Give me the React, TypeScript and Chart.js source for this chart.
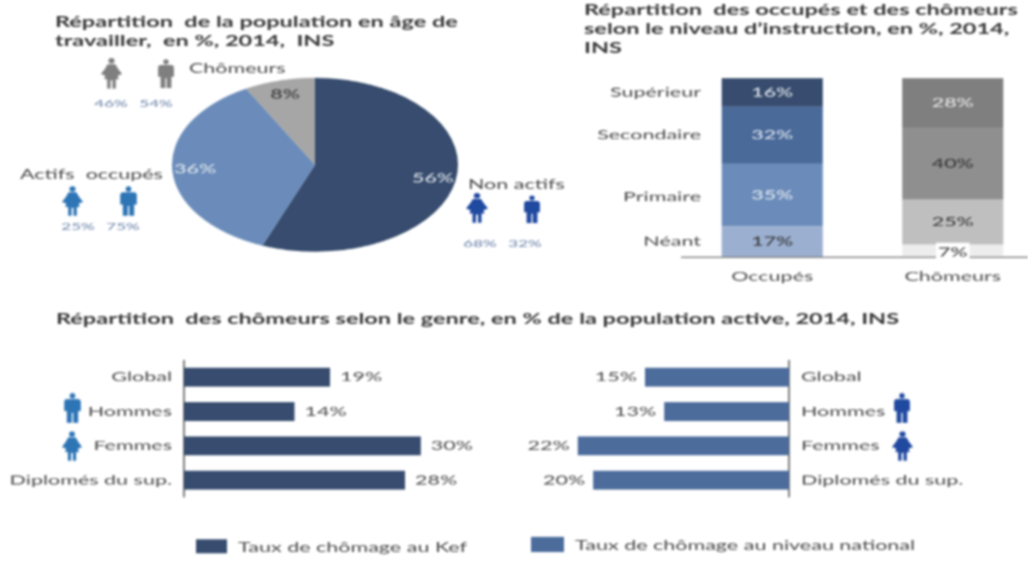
import React, { useEffect, useRef } from "react";
import { Chart, registerables } from "chart.js";

Chart.register(...registerables);

// ---- data ----
const pieLabels = ["Non actifs", "Actifs occupés", "Chômeurs"];
const pieValues = [56, 36, 8];
const pieColors = ["#374C6E", "#6B8CBA", "#A6A6A6"];
const pieLabelColors = ["#E8ECF2", "#E8ECF2", "#333333"];

const stackCategories = ["Occupés", "Chômeurs"];
const levelNames = ["Néant", "Primaire", "Secondaire", "Supérieur"];
const levelNeant = [17, 7];
const levelPrimaire = [35, 25];
const levelSecondaire = [32, 40];
const levelSuperieur = [16, 28];

const genderCategories = ["Global", "Hommes", "Femmes", "Diplomés du sup."];
const kefRates = [18.5, 14, 30, 28];
const nationalRates = [15, 13, 22, 20.4];

const titlePop = ["Répartition  de la population en âge de", "travailler,  en %, 2014,  INS"];
const titleEdu = [
  "Répartition  des occupés et des chômeurs",
  "selon le niveau d’instruction, en %, 2014,",
  "INS",
];
const titleGender = "Répartition  des chômeurs selon le genre, en % de la population active, 2014, INS";
const legendKef = "Taux de chômage au Kef";
const legendNat = "Taux de chômage au niveau national";

// ---- layout ----
const S = 0.608;
const FONT = "Lato, sans-serif";
const LABEL_SIZE = 21.5;
const TITLE_SIZE = 23.5;
const SMALL_SIZE = 17;
const C_TEXT = "#4A4A4A";
const C_TITLE = "#383838";
const C_SMALL = "#6A82A8";
const DARK = "#374C6E";
const BLUE = "#4C6C9C";
const GRAY = "#7F7F7F";
const TEAL = "#2E75B6";
const NAVY = "#2049A0";

const MAN =
  "M6 7.5H18Q21.5 7.5 21.5 11V22H18.5V36H12.8V24H11.2V36H5.5V22H2.5V11Q2.5 7.5 6 7.5Z";
const WOMAN =
  "M8 7.5H16L19 13L23 19L18.5 21L19.5 25H16.5V36H13V26H11V36H7.5V25H4.5L5.5 21L1 19L5 13Z";

function Person({ x, y, w, h, color, woman }: any) {
  return (
    <svg
      viewBox="0 0 24 36"
      preserveAspectRatio="none"
      style={{ position: "absolute", left: x, top: y / S, width: w, height: h / S }}
    >
      <circle cx="12" cy="3.5" r="3.2" fill={color} />
      <path d={woman ? WOMAN : MAN} fill={color} />
    </svg>
  );
}

function Txt({ x, y, text, size = LABEL_SIZE, color = C_TEXT, bold = false, center = false }: any) {
  return (
    <div
      style={{
        position: "absolute",
        left: x,
        top: y / S - size * 0.75,
        height: size * 1.5,
        lineHeight: `${size * 1.5}px`,
        fontFamily: FONT,
        fontSize: size,
        fontWeight: bold ? 700 : 400,
        color,
        whiteSpace: "pre",
        transform: center ? "translateX(-50%)" : undefined,
      }}
    >
      {text}
    </div>
  );
}

const pieLabelPlugin = {
  id: "pieLabels",
  afterDatasetsDraw(chart: any) {
    const { ctx } = chart;
    const meta = chart.getDatasetMeta(0);
    ctx.save();
    ctx.font = `${LABEL_SIZE}px ${FONT}`;
    ctx.textAlign = "center";
    ctx.textBaseline = "middle";
    meta.data.forEach((arc: any, i: number) => {
      const a = (arc.startAngle + arc.endAngle) / 2;
      const r = arc.outerRadius * 0.84;
      ctx.fillStyle = pieLabelColors[i];
      ctx.fillText(
        `${chart.data.datasets[0].data[i]}%`,
        arc.x + Math.cos(a) * r,
        arc.y + Math.sin(a) * r
      );
    });
    ctx.restore();
  },
};

const stackLabelPlugin = {
  id: "stackLabels",
  afterDatasetsDraw(chart: any) {
    const { ctx } = chart;
    ctx.save();
    ctx.font = `${LABEL_SIZE}px ${FONT}`;
    ctx.textBaseline = "middle";
    chart.data.datasets.forEach((ds: any, d: number) => {
      const meta = chart.getDatasetMeta(d);
      meta.data.forEach((bar: any, i: number) => {
        const boxed = ds.boxed && ds.boxed[i];
        const cy = (bar.y + bar.base) / 2 + (boxed ? 3 : 0);
        const t = `${ds.data[i]}%`;
        ctx.textAlign = "center";
        if (boxed) {
          const tw = ctx.measureText(t).width + 4;
          ctx.fillStyle = "#FFFFFF";
          ctx.fillRect(bar.x - tw / 2, cy - 16, tw, 32);
        }
        ctx.fillStyle = ds.textColors[i];
        ctx.fillText(t, bar.x, cy);
        if (i === 0) {
          ctx.textAlign = "right";
          ctx.fillStyle = C_TEXT;
          ctx.fillText(ds.label, chart.chartArea.left + 19, cy + (d === 1 ? 3 : 0));
        }
      });
    });
    ctx.restore();
  },
};

const barValuePlugin = {
  id: "barValues",
  afterDatasetsDraw(chart: any) {
    const { ctx } = chart;
    const ds = chart.data.datasets[0];
    const rev = chart.scales.x.options.reverse;
    ctx.save();
    ctx.font = `${LABEL_SIZE}px ${FONT}`;
    ctx.textBaseline = "middle";
    ctx.textAlign = rev ? "right" : "left";
    ctx.fillStyle = C_TEXT;
    chart.getDatasetMeta(0).data.forEach((bar: any, i: number) => {
      ctx.fillText(`${Math.round(ds.data[i])}%`, bar.x + (rev ? -8 : 10), bar.y);
    });
    ctx.restore();
  },
};

function useChart(make: (c: HTMLCanvasElement) => Chart) {
  const ref = useRef<HTMLCanvasElement>(null);
  useEffect(() => {
    const c = make(ref.current as HTMLCanvasElement);
    return () => c.destroy();
  }, []);
  return ref;
}

function hBar(canvas: HTMLCanvasElement, values: number[], color: string, rev: boolean, max: number, axisW: number) {
  return new Chart(canvas, {
    type: "bar",
    data: {
      labels: genderCategories,
      datasets: [{ data: values, backgroundColor: color, barPercentage: 1, categoryPercentage: 0.55 }],
    },
    plugins: [barValuePlugin],
    options: {
      indexAxis: "y",
      animation: false,
      responsive: false,
      maintainAspectRatio: false,
      layout: { padding: 0 },
      plugins: { legend: { display: false }, tooltip: { enabled: false }, title: { display: false } },
      scales: {
        x: { display: false, min: 0, max, reverse: rev },
        y: {
          position: rev ? "right" : "left",
          afterFit: (s: any) => {
            s.width = axisW;
            s.paddingTop = 0;
            s.paddingBottom = 0;
          },
          grid: { display: false, drawTicks: false },
          border: { display: true, color: GRAY, width: 2 },
          ticks: {
            padding: 12,
            color: C_TEXT,
            font: { family: "Lato", size: LABEL_SIZE },
          },
        },
      },
    },
  } as any);
}

export default function App() {
  const pieRef = useChart(
    (c) =>
      new Chart(c, {
        type: "pie",
        data: {
          labels: pieLabels,
          datasets: [{ data: pieValues, backgroundColor: pieColors, borderWidth: 0 }],
        },
        plugins: [pieLabelPlugin],
        options: {
          animation: false,
          responsive: false,
          maintainAspectRatio: false,
          layout: { padding: 0 },
          plugins: { legend: { display: false }, tooltip: { enabled: false } },
        },
      } as any)
  );

  const stackRef = useChart((c) => {
    const series = [levelNeant, levelPrimaire, levelSecondaire, levelSuperieur];
    const colors = [
      ["#9BAFD0", "#EDEDED"],
      ["#6B8CBA", "#BFBFBF"],
      ["#4A6A9A", "#8F8F8F"],
      ["#374C6E", "#7F7F7F"],
    ];
    const textColors = [
      ["#333333", "#333333"],
      ["#E8ECF2", "#333333"],
      ["#E8ECF2", "#333333"],
      ["#E8ECF2", "#EEEEEE"],
    ];
    return new Chart(c, {
      type: "bar",
      data: {
        labels: stackCategories,
        datasets: series.map((data, i) => ({
          label: levelNames[i],
          data,
          backgroundColor: colors[i],
          textColors: textColors[i],
          boxed: i === 0 ? [false, true] : undefined,
          barPercentage: 1,
          categoryPercentage: 0.56,
        })),
      },
      plugins: [stackLabelPlugin],
      options: {
        animation: false,
        responsive: false,
        maintainAspectRatio: false,
        layout: { padding: { left: 92, top: 8 / S } },
        plugins: { legend: { display: false }, tooltip: { enabled: false } },
        scales: {
          x: {
            stacked: true,
            afterFit: (s: any) => {
              s.height = 38 / S;
            },
            grid: { display: false, drawTicks: false },
            border: { display: true, color: GRAY, width: 2 },
            ticks: { padding: 20, color: C_TEXT, font: { family: "Lato", size: LABEL_SIZE } },
          },
          y: { stacked: true, display: false, min: 0, max: 100 },
        },
      },
    } as any);
  });

  const leftRef = useChart((c) => hBar(c, kefRates, DARK, false, 41.3, 184));
  const rightRef = useChart((c) => hBar(c, nationalRates, BLUE, true, 29.06, 239));

  return (
    <div
      style={{
        position: "absolute",
        left: 0,
        top: 0,
        width: 1028,
        height: 561,
        overflow: "hidden",
        background: "#fff",
        filter: "blur(0.8px)",
      }}
    >
      <div
        style={{
          position: "absolute",
          left: 0,
          top: 0,
          width: 1028,
          height: 561 / S,
          transform: `scaleY(${S})`,
          transformOrigin: "0 0",
        }}
      >
        {/* pie */}
        <canvas ref={pieRef} width={286} height={286} style={{ position: "absolute", left: 172, top: 78 / S }} />
        <Txt x={55} y={22} text={titlePop[0]} bold size={TITLE_SIZE} color={C_TITLE} />
        <Txt x={55} y={41} text={titlePop[1]} bold size={TITLE_SIZE} color={C_TITLE} />
        <Person x={100} y={58} w={23} h={31} color={GRAY} woman />
        <Person x={156} y={59} w={20} h={29} color={GRAY} />
        <Txt x={189} y={68} text={pieLabels[2]} />
        <Txt x={111} y={103} text="46%" size={SMALL_SIZE} color={C_SMALL} center />
        <Txt x={156} y={103} text="54%" size={SMALL_SIZE} color={C_SMALL} center />
        <Txt x={20} y={174} text="Actifs  occupés" />
        <Person x={61} y={186} w={23} h={30} color={TEAL} woman />
        <Person x={118} y={186} w={21} h={30} color={TEAL} />
        <Txt x={78} y={226} text="25%" size={SMALL_SIZE} color={C_SMALL} center />
        <Txt x={123} y={226} text="75%" size={SMALL_SIZE} color={C_SMALL} center />
        <Txt x={468} y={184} text={pieLabels[0]} />
        <Person x={465} y={193} w={24} h={30} color={NAVY} woman />
        <Person x={522} y={195} w={20} h={28} color={NAVY} />
        <Txt x={480} y={243} text="68%" size={SMALL_SIZE} color={C_SMALL} center />
        <Txt x={525} y={243} text="32%" size={SMALL_SIZE} color={C_SMALL} center />

        {/* stacked */}
        <canvas ref={stackRef} width={453} height={225 / S} style={{ position: "absolute", left: 590, top: 70 / S }} />
        <Txt x={584} y={10} text={titleEdu[0]} bold size={TITLE_SIZE} color={C_TITLE} />
        <Txt x={584} y={29} text={titleEdu[1]} bold size={TITLE_SIZE} color={C_TITLE} />
        <Txt x={584} y={48} text={titleEdu[2]} bold size={TITLE_SIZE} color={C_TITLE} />

        {/* gender */}
        <Txt x={56} y={319} text={titleGender} bold size={TITLE_SIZE} color={C_TITLE} />
        <canvas ref={leftRef} width={510} height={138 / S} style={{ position: "absolute", left: 0, top: 360 / S }} />
        <canvas ref={rightRef} width={518} height={138 / S} style={{ position: "absolute", left: 510, top: 360 / S }} />
        <Person x={62} y={393} w={21} h={30} color={TEAL} />
        <Person x={61} y={431} w={22} h={30} color={TEAL} woman />
        <Person x={892} y={393} w={20} h={30} color={NAVY} />
        <Person x={891} y={431} w={23} h={30} color={NAVY} woman />

        {/* legends */}
        <div style={{ position: "absolute", left: 196, top: 539 / S, width: 31, height: 14 / S, background: DARK }} />
        <Txt x={238} y={547} text={legendKef} />
        <div style={{ position: "absolute", left: 531, top: 537 / S, width: 33, height: 15 / S, background: BLUE }} />
        <Txt x={575} y={545} text={legendNat} />
      </div>
    </div>
  );
}
